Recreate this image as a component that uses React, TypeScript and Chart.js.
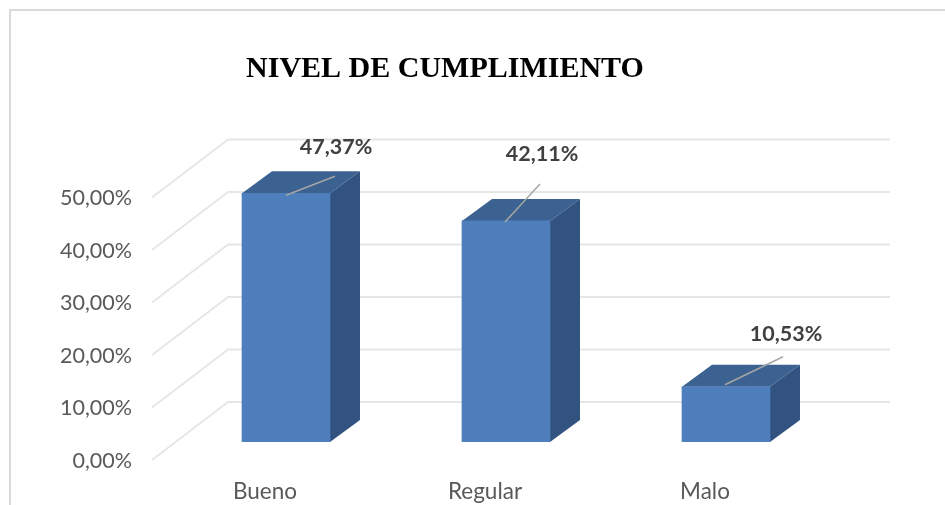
import React, { useEffect, useRef } from "react";
import { Chart, registerables } from "chart.js";

Chart.register(...registerables);

const categories = ["Bueno", "Regular", "Malo"];
const cumplimiento = [47.37, 42.11, 10.53];
const valueLabels = ["47,37%", "42,11%", "10,53%"];
const tickLabels = ["0,00%", "10,00%", "20,00%", "30,00%", "40,00%", "50,00%"];

const DEPTH_X = 30;
const DEPTH_Y = -22;
const WALL_X = 52;
const WALL_Y = -40;
const FLOOR_X = -24;
const FLOOR_Y = 18;
const LEADERS = [
  { from: [0, 2], to: [49, -17], text: [50, -46] },
  { from: [-1, 1], to: [34, -37], text: [36, -67] },
  { from: [-1, -2], to: [57, -30], text: [60, -53] },
];

const depthPlugin = {
  id: "depth",
  beforeDatasetsDraw(chart: any) {
    const { ctx } = chart;
    const y = chart.scales.y;
    const x = chart.scales.x;
    const right = x.right;
    ctx.save();
    ctx.strokeStyle = "#e6e6e6";
    ctx.lineWidth = 2;
    ctx.lineJoin = "round";
    for (let v = 0; v <= 50; v += 10) {
      const p = y.getPixelForValue(v);
      ctx.beginPath();
      ctx.moveTo(x.left + FLOOR_X, p + FLOOR_Y);
      ctx.lineTo(x.left + WALL_X, p + WALL_Y);
      ctx.lineTo(right + WALL_X + 2, p + WALL_Y);
      ctx.stroke();
    }
    ctx.restore();
    const meta = chart.getDatasetMeta(0);
    meta.data.forEach((bar: any) => {
      const half = bar.width / 2;
      const l = bar.x - half;
      const r = bar.x + half;
      const t = bar.y;
      const b = bar.base;
      ctx.save();
      ctx.fillStyle = "#3c6291";
      ctx.beginPath();
      ctx.moveTo(l, t);
      ctx.lineTo(l + DEPTH_X, t + DEPTH_Y);
      ctx.lineTo(r + DEPTH_X, t + DEPTH_Y);
      ctx.lineTo(r, t);
      ctx.closePath();
      ctx.fill();
      ctx.fillStyle = "#325380";
      ctx.beginPath();
      ctx.moveTo(r, t);
      ctx.lineTo(r + DEPTH_X, t + DEPTH_Y);
      ctx.lineTo(r + DEPTH_X, b + DEPTH_Y);
      ctx.lineTo(r, b);
      ctx.closePath();
      ctx.fill();
      ctx.restore();
    });
  },
  afterDatasetsDraw(chart: any) {
    const { ctx } = chart;
    const meta = chart.getDatasetMeta(0);
    meta.data.forEach((bar: any, i: number) => {
      const leader = LEADERS[i];
      ctx.save();
      ctx.strokeStyle = "#a6a6a6";
      ctx.lineWidth = 1.5;
      ctx.beginPath();
      ctx.moveTo(bar.x + leader.from[0], bar.y + leader.from[1]);
      ctx.lineTo(bar.x + leader.to[0], bar.y + leader.to[1]);
      ctx.stroke();
      ctx.fillStyle = "#404040";
      ctx.font = "bold 21.5px Lato";
      ctx.textAlign = "center";
      ctx.textBaseline = "middle";
      ctx.fillText(valueLabels[i], bar.x + leader.text[0], bar.y + leader.text[1]);
      ctx.restore();
    });
  },
};

export default function App() {
  const ref = useRef<HTMLCanvasElement | null>(null);
  useEffect(() => {
    if (!ref.current) return;
    const chart = new Chart(ref.current, {
      type: "bar",
      data: {
        labels: categories,
        datasets: [
          {
            label: "Nivel de cumplimiento",
            data: cumplimiento,
            backgroundColor: "#4e7fbc",
            barThickness: 88,
            borderWidth: 0,
          },
        ],
      },
      plugins: [depthPlugin],
      options: {
        responsive: false,
        animation: false,
        layout: { padding: { left: 54, right: 109, top: 0, bottom: 0 } },
        plugins: {
          legend: { display: false },
          tooltip: { enabled: false },
          title: {
            display: true,
            text: "NIVEL DE CUMPLIMIENTO",
            color: "#000000",
            font: { family: "'Liberation Serif'", size: 30, weight: "bold", lineHeight: 1.2 },
            padding: { top: 51, bottom: 92.5 },
          },
        },
        scales: {
          x: {
            grid: { display: false, drawTicks: false },
            border: { display: false },
            ticks: {
              color: "#595959",
              font: { family: "Lato", size: 22.5 },
              labelOffset: -21,
              padding: 36,
              maxRotation: 0,
            },
            afterFit: (s: any) => {
              s.height = 63;
            },
          },
          y: {
            min: 0,
            max: 50,
            grid: { display: false, drawTicks: false },
            border: { display: false },
            ticks: {
              stepSize: 10,
              color: "#595959",
              font: { family: "Lato", size: 21.5 },
              labelOffset: 19,
              padding: 44,
              callback: (v: any) => tickLabels[Math.round(Number(v) / 10)],
            },
            afterFit: (s: any) => {
              s.width = 122;
            },
          },
        },
      },
    } as any);
    return () => chart.destroy();
  }, []);
  return (
    <div style={{ position: "fixed", left: 0, top: 0, width: 945, height: 505, background: "#fff", overflow: "hidden" }}>
      <div
        style={{
          position: "absolute",
          left: 9,
          top: 9,
          width: 960,
          height: 520,
          borderTop: "2px solid #d9d9d9",
          borderLeft: "2px solid #d9d9d9",
          boxSizing: "border-box",
        }}
      />
      <canvas ref={ref} width={945} height={505} style={{ position: "absolute", left: 0, top: 0, display: "block" }} />
    </div>
  );
}
